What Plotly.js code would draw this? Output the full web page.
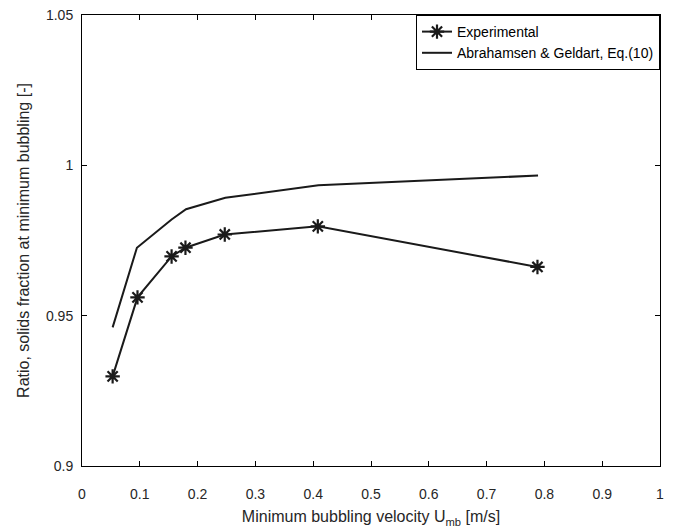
<!DOCTYPE html>
<html>
<head>
<meta charset="utf-8">
<script src="https://cdn.plot.ly/plotly-3.0.1.min.js"></script>
<style>html,body{margin:0;padding:0;background:#fff;}#chart{width:675px;height:530px;}</style>
</head>
<body>
<div id="chart"></div>
<script>
// Data
const expX = [0.053, 0.096, 0.155, 0.179, 0.247, 0.408, 0.788];
const expY = [0.9298, 0.9561, 0.9697, 0.9726, 0.9770, 0.9797, 0.9662];
const abrX = [0.053, 0.095, 0.155, 0.180, 0.248, 0.409, 0.789];
const abrY = [0.9461, 0.9726, 0.9820, 0.9854, 0.9892, 0.9934, 0.9966];
const xTickVals = [0, 0.1, 0.2, 0.3, 0.4, 0.5, 0.6, 0.7, 0.8, 0.9, 1];
const xTickText = ['0', '0.1', '0.2', '0.3', '0.4', '0.5', '0.6', '0.7', '0.8', '0.9', '1'];
const yTickVals = [0.9, 0.95, 1, 1.05];
const yTickText = ['0.9', '0.95', '1', '1.05'];

const lineColor = '#1a1a1a';
const fontFam = 'Liberation Sans, Arial, sans-serif';
const traces = [
  {
    x: expX, y: expY, name: 'Experimental', type: 'scatter', mode: 'lines+markers',
    line: {color: lineColor, width: 2},
    marker: {symbol: 'asterisk-open', size: 12, color: lineColor, line: {color: lineColor, width: 2.2}}
  },
  {
    x: abrX, y: abrY, name: 'Abrahamsen &amp; Geldart, Eq.(10)', type: 'scatter', mode: 'lines',
    line: {color: lineColor, width: 2}
  }
];

const axisCommon = {
  showline: true, linecolor: '#000', linewidth: 1, mirror: 'ticks',
  ticks: 'inside', ticklen: 5, tickwidth: 1, tickcolor: '#000',
  showgrid: false, zeroline: false,
  tickfont: {family: fontFam, size: 14, color: '#262626'}
};

const layout = {
  width: 675, height: 530,
  margin: {l: 82, r: 15, t: 15, b: 64},
  paper_bgcolor: '#fff', plot_bgcolor: '#fff',
  showlegend: true,
  legend: {
    x: 1, y: 1, xanchor: 'right', yanchor: 'top',
    bgcolor: '#fff', bordercolor: '#000', borderwidth: 1,
    font: {family: fontFam, size: 14, color: '#000'},
    tracegroupgap: 0, entrywidth: 255, entrywidthmode: 'pixels'
  },
  xaxis: Object.assign({}, axisCommon, {
    range: [0, 1], tickvals: xTickVals, ticktext: xTickText, ticklabelstandoff: 15,
    title: {text: 'Minimum bubbling velocity U<sub>mb</sub> [m/s]', standoff: 10,
            font: {family: fontFam, size: 16, color: '#262626'}}
  }),
  yaxis: Object.assign({}, axisCommon, {
    range: [0.9, 1.05], tickvals: yTickVals, ticktext: yTickText, ticklabelstandoff: 5,
    title: {text: 'Ratio, solids fraction at minimum bubbling [-]', standoff: 12,
            font: {family: fontFam, size: 16, color: '#262626'}}
  })
};

Plotly.newPlot('chart', traces, layout, {displayModeBar: false, staticPlot: true});
</script>
</body>
</html>
